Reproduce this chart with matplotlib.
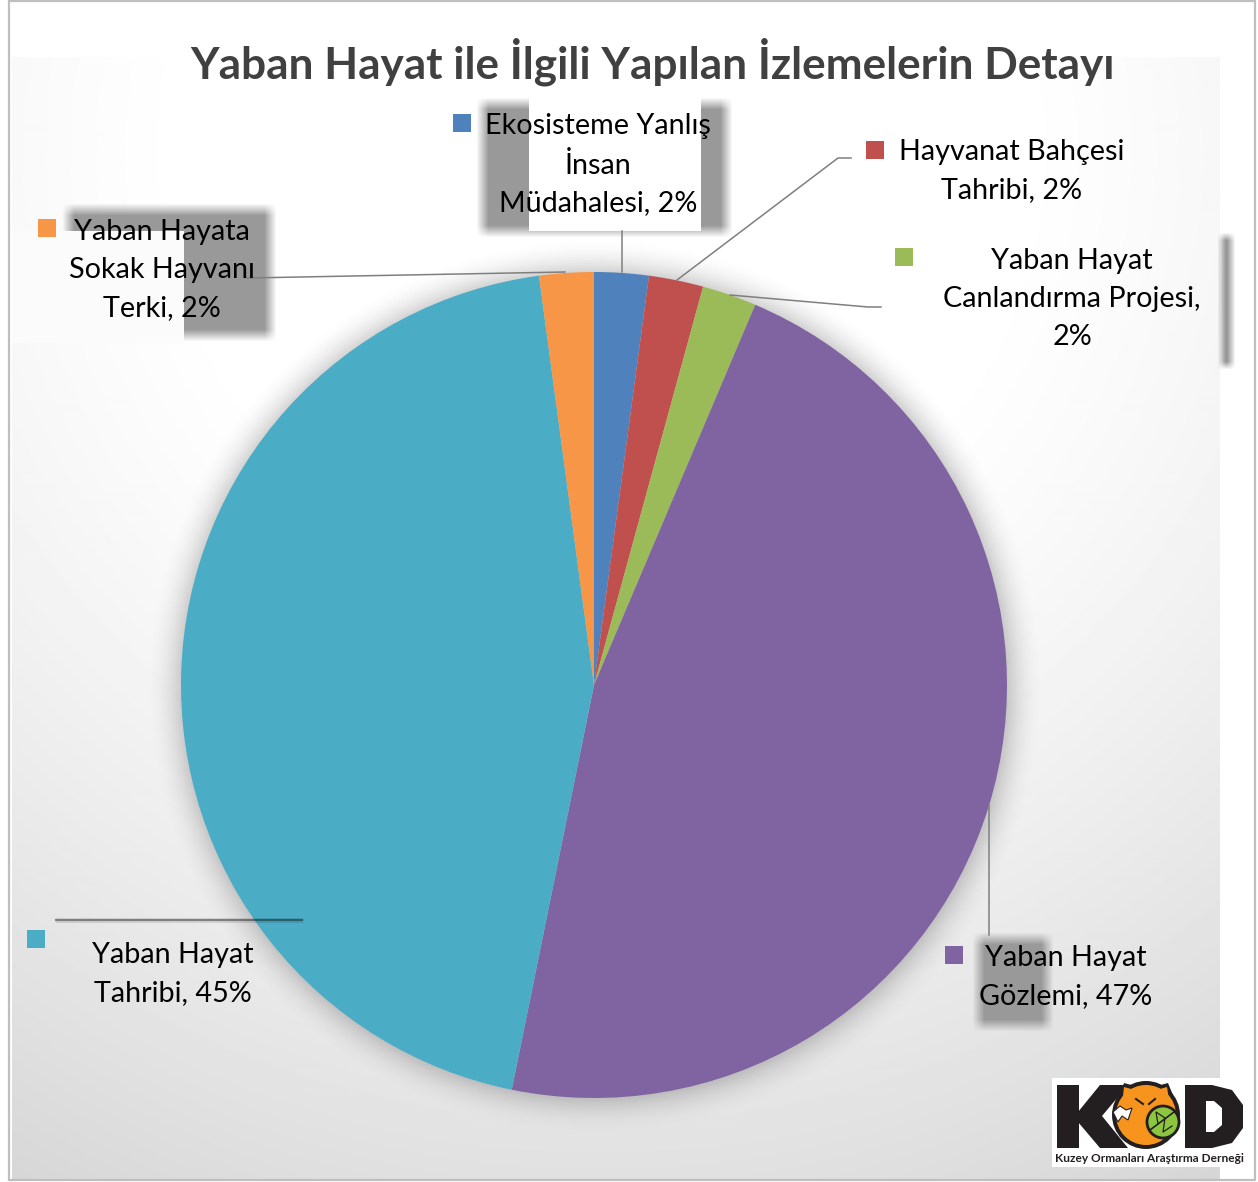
import numpy as np
import matplotlib
matplotlib.use('Agg')
import matplotlib.pyplot as plt
from matplotlib.patches import Rectangle, Circle, Polygon

W, H = 1258, 1182

# chart data
names = ['Ekosisteme Yanlış\nİnsan\nMüdahalesi', 'Hayvanat Bahçesi\nTahribi',
         'Yaban Hayat\nCanlandırma Projesi,\n', 'Yaban Hayat\nGözlemi',
         'Yaban Hayat\nTahribi', 'Yaban Hayata\nSokak Hayvanı\nTerki']
values = [1, 1, 1, 22, 21, 1]
colors = ['#4F81BD', '#C0504D', '#9BBB59', '#8064A2', '#4BACC6', '#F79646']
title = 'Yaban Hayat ile İlgili Yapılan İzlemelerin Detayı'

# label centre, legend key corner, leader line (all in picture pixels)
label_pos = [(598, 165), (1012, 171), (1072, 299), (1066, 977), (173, 974), (162, 270)]
key_pos = [(453, 114), (866, 141), (895, 248), (945, 946), (27, 930), (38, 219)]
leaders = [[(622, 231), (622, 272)],
           [(677, 280), (838, 158), (851, 158)],
           [(730, 295), (868, 307), (881, 307)],
           [(989, 805), (989, 935)],
           [(55, 920), (303, 920)],
           [(565, 272), (247, 278)]]
# grey blurred boxes behind the labels: x0, x1, y0, y1, blur
grey_boxes = [(482, 726, 103, 231, 6), (68, 270, 209, 335, 6), (1221, 1231, 236, 365, 4), (978, 1047, 938, 1025, 6)]

cx, cy, rad = 594, 685, 413

plt.rcParams['font.family'] = ['Lato', 'DejaVu Sans']
fig = plt.figure(figsize=(W / 100, H / 100), dpi=100)
bg = fig.add_axes([0, 0, 1, 1], zorder=0)


def soft_box(ax, x0, x1, y0, y1, blur=6, col=0.6):
    xs = np.arange(x0 - blur, x1 + blur)
    ys = np.arange(y0 - blur, y1 + blur)
    ax_x = np.clip((xs - x0 + blur) / (2 * blur), 0, 1) * np.clip((x1 + blur - xs) / (2 * blur), 0, 1)
    ax_y = np.clip((ys - y0 + blur) / (2 * blur), 0, 1) * np.clip((y1 + blur - ys) / (2 * blur), 0, 1)
    img = np.full((len(ys), len(xs), 4), col)
    img[..., 3] = np.outer(ax_y, ax_x)
    ax.imshow(img, extent=(x0 - blur, x1 + blur, y1 + blur, y0 - blur), aspect='auto', interpolation='bilinear')


# background gradient
xx, yy = np.meshgrid(np.arange(12, 1220, 2), np.arange(57, 1180, 2))
d = np.hypot(xx - 600, yy - 150)
shade = 1 - 0.15 * (np.clip(d - 400, 0, None) / 750) ** 1.3
bg.imshow(shade, extent=(12, 1220, 1180, 57), cmap='gray', vmin=0, vmax=1, aspect='auto')

# shadow round the pie
xx, yy = np.meshgrid(np.arange(cx - 480, cx + 480, 2), np.arange(cy - 480, cy + 480, 2))
d = np.hypot(xx - cx, yy - cy)
img = np.zeros(d.shape + (4,))
img[..., :3] = 0.35
img[..., 3] = 0.28 * np.clip((rad + 36 - d) / 36, 0, 1) ** 2
bg.imshow(img, extent=(cx - 480, cx + 480, cy + 480, cy - 480), aspect='auto')

for b in grey_boxes:
    soft_box(bg, *b[:4], blur=b[4])
# white patches over the grey boxes
bg.add_patch(Rectangle((529, 98), 172, 133, fc='white', ec='none', zorder=5))
bg.add_patch(Rectangle((12, 231), 172, 112, fc='#fbfbfb', ec='none', zorder=5))

# border
bg.add_patch(Rectangle((9, 1), 1246, 1179, fc='none', ec='#bfbfbf', lw=1.6, zorder=6))
bg.set_xlim(0, W)
bg.set_ylim(H, 0)
bg.axis('off')

# pie
pie_ax = fig.add_axes([(cx - rad) / W, 1 - (cy + rad) / H, 2 * rad / W, 2 * rad / H], zorder=1)
pie_ax.pie(values, colors=colors, startangle=90, counterclock=False, radius=1)
pie_ax.set_xlim(-1, 1)
pie_ax.set_ylim(-1, 1)

# labels, keys and lines on top
top = fig.add_axes([0, 0, 1, 1], zorder=2)
top.patch.set_alpha(0)
top.set_xlim(0, W)
top.set_ylim(H, 0)
top.axis('off')

total = sum(values)
for i in range(len(values)):
    pct = '%d%%' % round(100 * values[i] / total)
    sep = '' if names[i].endswith('\n') else ', '
    top.text(label_pos[i][0], label_pos[i][1], names[i] + sep + pct, ha='center', va='center',
             fontsize=20.7, color='black', linespacing=1.56, multialignment='center')
    top.add_patch(Rectangle(key_pos[i], 18, 18, fc=colors[i], ec='none'))
    lx, ly = zip(*leaders[i])
    if i == 4:
        # this one is only a soft dark streak in the picture
        top.plot(lx, ly, color='black', lw=3.5, alpha=0.12, solid_capstyle='butt')
        top.plot(lx, ly, color='black', lw=1.2, alpha=0.45, solid_capstyle='butt')
    else:
        top.plot(lx, ly, color='#7f7f7f', lw=1.1)

top.text(653, 62, title, ha='center', va='center', fontsize=31.8, fontweight='bold', color='#404040')

# logo
top.add_patch(Rectangle((1052, 1078), 195, 89, fc='white', ec='none'))
top.add_patch(Rectangle((1057, 1085), 22, 63, fc='#231f20', ec='none'))
top.add_patch(Polygon([(1078, 1112), (1100, 1085), (1128, 1085), (1102, 1116), (1128, 1148), (1100, 1148), (1078, 1122)],
                      fc='#231f20', ec='none'))
top.add_patch(Polygon([(1118, 1100), (1124, 1083), (1146, 1089), (1168, 1083), (1175, 1100)], fc='#231f20', ec='none'))
top.add_patch(Circle((1146, 1115), 34, fc='#231f20', ec='none'))
top.add_patch(Polygon([(1122, 1106), (1124, 1087), (1146, 1093), (1167, 1087), (1170, 1106)], fc='#F7941E', ec='none'))
top.add_patch(Circle((1146, 1115), 30, fc='#F7941E', ec='none'))
top.add_patch(Polygon([(1113, 1112), (1120, 1106), (1126, 1110), (1132, 1108), (1128, 1120), (1122, 1116), (1118, 1122)],
                      fc='white', ec='#231f20', lw=0.8))
top.add_patch(Circle((1163, 1122), 16, fc='#8CC63F', ec='#231f20', lw=2))
top.plot([1150, 1174], [1130, 1112], color='#231f20', lw=1.2)
top.plot([1158, 1156, 1165, 1163, 1172], [1124, 1112, 1118, 1132, 1126], color='#231f20', lw=0.9)
top.plot([1136, 1143], [1099, 1104], color='#231f20', lw=1.5)
top.plot([1155, 1149], [1099, 1104], color='#231f20', lw=1.5)
top.add_patch(Polygon([(1185, 1085), (1212, 1085), (1232, 1090), (1243, 1105), (1243, 1128), (1232, 1143), (1212, 1148), (1185, 1148)],
                      fc='#231f20', ec='none'))
top.add_patch(Polygon([(1206, 1101), (1214, 1101), (1222, 1108), (1222, 1125), (1214, 1132), (1206, 1132)], fc='white', ec='none'))
top.text(1149, 1158, 'Kuzey Ormanları Araştırma Derneği', ha='center', va='center',
         fontsize=8.6, fontweight='bold', color='#231f20')

fig.savefig('out.png', dpi=100, facecolor='white')
